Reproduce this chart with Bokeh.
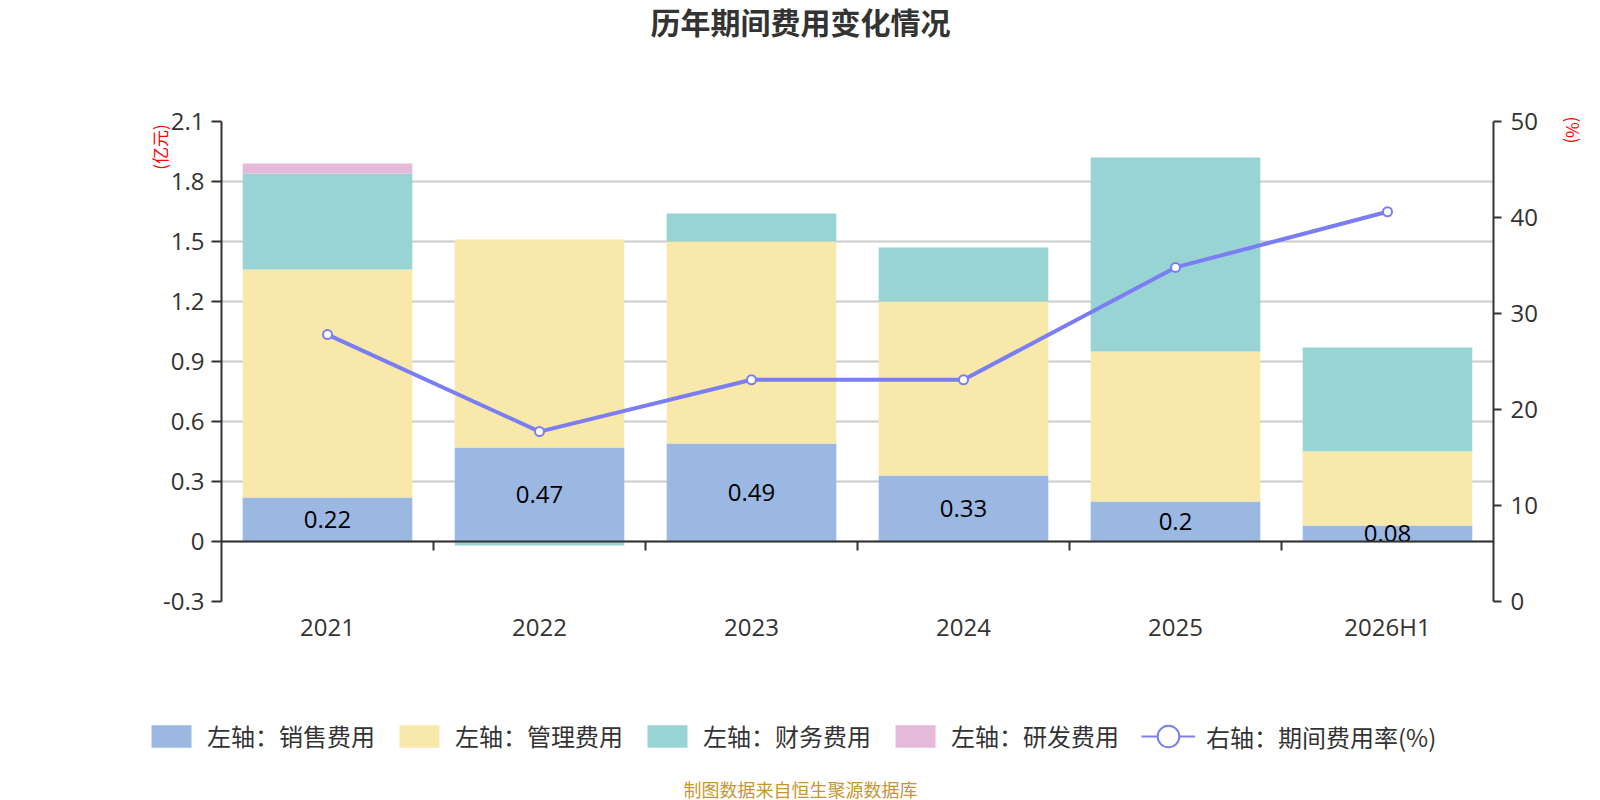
import math
from bokeh.plotting import figure
from bokeh.layouts import column
from bokeh.models import (Range1d, LinearAxis, FixedTicker, Span, Legend, Label,
                          LegendItem, ColumnDataSource, CustomJSTickFormatter)
from bokeh.embed import file_html
from bokeh.resources import INLINE
from bokeh.core.properties import value

# ---------------- data ----------------
categories = ["2021", "2022", "2023", "2024", "2025", "2026H1"]
sales = [0.22, 0.47, 0.49, 0.33, 0.2, 0.08]          # 销售费用 (亿元)
admin = [1.14, 1.04, 1.01, 0.87, 0.75, 0.37]         # 管理费用
finance = [0.48, -0.02, 0.14, 0.27, 0.97, 0.52]      # 财务费用
rnd = [0.05, 0.0, 0.0, 0.0, 0.0, 0.0]                # 研发费用
rate = [27.8, 17.7, 23.1, 23.1, 34.8, 40.6]          # 期间费用率 (%)
left_ticks = [-0.3, 0, 0.3, 0.6, 0.9, 1.2, 1.5, 1.8, 2.1]
right_ticks = [0, 10, 20, 30, 40, 50]
series_names = ["左轴：销售费用", "左轴：管理费用", "左轴：财务费用", "左轴：研发费用"]
line_name = "右轴：期间费用率(%)"
title_text = "历年期间费用变化情况"
footer_text = "制图数据来自恒生聚源数据库"
left_unit = "(亿元)"
right_unit = "(%)"

# ---------------- styles ----------------
colors = ["#9BB8E2", "#F8E8AA", "#98D4D4", "#E6B9D8"]
LINE_C = "#7B7EF2"
CJK = "Noto Sans CJK SC"
NUM = "Open Sans"

W = 1600
TOP_H, MAIN_H, BOT_H = 60, 645, 95
FL, FR = 221, 1493          # frame left/right in canvas px
FT, FB = 61, 541            # frame top/bottom inside main figure

n = len(categories)
xs = [i + 0.5 for i in range(n)]


def blank_fig(h):
    f = figure(width=W, height=h, output_backend="svg", toolbar_location=None,
               x_range=Range1d(-10, -9), y_range=Range1d(-10, -9),
               x_axis_type=None, y_axis_type=None, frame_align=False,
               min_border=0, min_border_left=0, min_border_right=0,
               min_border_top=0, min_border_bottom=0)
    f.outline_line_color = None
    f.grid.visible = False
    f.background_fill_color = "white"
    f.border_fill_color = "white"
    return f


# ---------------- title figure ----------------
top = blank_fig(TOP_H)
top.add_layout(Label(x=800, y=TOP_H - 20, x_units="screen", y_units="screen",
                     text=title_text, text_font=CJK, text_font_size="30px",
                     text_font_style="bold", text_color="#333333",
                     text_align="center", text_baseline="middle"))

# ---------------- main figure ----------------
p = figure(width=W, height=MAIN_H, output_backend="svg", toolbar_location=None,
           x_range=Range1d(0, n), y_range=Range1d(left_ticks[0], left_ticks[-1]),
           frame_align=False,
           min_border_left=FL, min_border_right=W - FR,
           min_border_top=FT, min_border_bottom=MAIN_H - FB)
p.outline_line_color = None
p.background_fill_color = "white"
p.border_fill_color = "white"
p.xgrid.visible = False
p.ygrid.ticker = FixedTicker(ticks=left_ticks)
p.ygrid.grid_line_color = "#cccccc"
p.ygrid.grid_line_width = 2
p.extra_y_ranges = {"pct": Range1d(right_ticks[0], right_ticks[-1])}


def style_axis(ax, tick_out, standoff):
    ax.axis_line_color = "#333333"
    ax.axis_line_width = 2
    ax.major_tick_line_color = "#333333"
    ax.major_tick_line_width = 2
    ax.major_tick_out = tick_out
    ax.major_tick_in = 0
    ax.minor_tick_line_color = None
    ax.major_label_standoff = standoff
    ax.major_label_text_font = NUM
    ax.major_label_text_font_size = "24px"
    ax.major_label_text_color = "#333333"
    ax.axis_label_text_font = CJK
    ax.axis_label_text_font_size = "17px"
    ax.axis_label_text_font_style = "normal"
    ax.axis_label_text_color = "#ff0000"


ly = p.yaxis[0]
ly.ticker = FixedTicker(ticks=left_ticks)
ly.formatter = CustomJSTickFormatter(code="return Number(tick.toFixed(1)).toString();")
style_axis(ly, 10, 7)
# the label is centred on the axis end; trailing ideographic spaces push the
# visible part below the top of the axis, as in the reference
ly.axis_label = left_unit + "\u3000\u3000\u3000"
ly.axis_label_align = "end"
ly.axis_label_standoff = -12

ry = LinearAxis(y_range_name="pct", ticker=FixedTicker(ticks=right_ticks))
style_axis(ry, 8, 9)
# a leading ideographic space lifts the visible part slightly above the axis end
ry.axis_label = "\u3000" + right_unit
ry.axis_label_align = "end"
ry.axis_label_standoff = 20
p.add_layout(ry, "right")

bx = p.xaxis[0]
bx.ticker = FixedTicker(ticks=xs)
bx.formatter = CustomJSTickFormatter(args=dict(cats=categories),
                                     code="return cats[Math.floor(tick)];")
bx.axis_line_color = None
bx.major_tick_line_color = None
bx.minor_tick_line_color = None
bx.major_label_standoff = 2
bx.major_label_text_font = NUM
bx.major_label_text_font_size = "24px"
bx.major_label_text_color = "#333333"

# stacked bars (positive and negative stacks separately)
pos = [0.0] * n
neg = [0.0] * n
for name, vals, col in zip(series_names, [sales, admin, finance, rnd], colors):
    bottoms, tops = [], []
    for i, v in enumerate(vals):
        if v >= 0:
            b = pos[i]
            t = b + v
            pos[i] = t
        else:
            t = neg[i]
            b = t + v
            neg[i] = b
        bottoms.append(b)
        tops.append(t)
    src = ColumnDataSource(dict(x=xs, bottom=bottoms, top=tops))
    p.vbar(x="x", bottom="bottom", top="top", width=0.8, source=src,
           fill_color=col, line_color=None)

# zero axis line with ticks at category boundaries
p.add_layout(Span(location=0, dimension="width", line_color="#333333", line_width=2))
bounds = list(range(1, n))
tick_len = 9 / 200.0
p.segment(x0=bounds, y0=[0] * len(bounds), x1=bounds, y1=[-tick_len] * len(bounds),
          line_color="#333333", line_width=2)

# value labels of sales
p.text(x=xs, y=[v / 2 for v in sales], text=[str(v) for v in sales],
       text_font=value(NUM), text_font_size="24px", text_color="#000000",
       text_align="center", text_baseline="middle")

# rate line
p.line(xs, rate, y_range_name="pct", line_color=LINE_C, line_width=4)
p.scatter(xs, rate, y_range_name="pct", marker="circle", size=9,
          fill_color="white", line_color=LINE_C, line_width=2)

# ---------------- legend + footer figure ----------------
# legend proxies drawn from the same data, but outside this figure's view
bot = blank_fig(BOT_H)
items = []
for nm, vals, col in zip(series_names, [sales, admin, finance, rnd], colors):
    r = bot.vbar(x=xs, top=vals, width=0.8, fill_color=col, line_color=None)
    items.append(LegendItem(label=nm, renderers=[r]))
legend = Legend(items=items, orientation="horizontal", location=(146, 47),
                glyph_width=50, glyph_height=28, label_standoff=11, spacing=19,
                padding=0, margin=0, border_line_color=None, background_fill_alpha=0,
                label_text_font=CJK, label_text_font_size="24px",
                label_text_color="#333333")
bot.add_layout(legend)

lp = bot.line(x=xs, y=rate, line_color=LINE_C, line_width=2)
cp = bot.scatter(x=xs, y=rate, marker="circle", size=22, fill_color="white",
                 line_color=LINE_C, line_width=2)
legend2 = Legend(items=[LegendItem(label=line_name, renderers=[lp, cp])],
                 orientation="horizontal", location=(1141, 35),
                 glyph_width=54, glyph_height=58, label_standoff=11,
                 padding=0, margin=0, border_line_color=None, background_fill_alpha=0,
                 label_text_font=CJK, label_text_font_size="24px",
                 label_text_color="#333333")
bot.add_layout(legend2)

bot.add_layout(Label(x=800, y=12, x_units="screen", y_units="screen",
                     text=footer_text, text_font=CJK, text_font_size="18px",
                     text_color="#C8962D", text_align="center", text_baseline="middle"))

layout = column(top, p, bot, spacing=0)
open("out.html", "w").write(file_html(layout, INLINE))
